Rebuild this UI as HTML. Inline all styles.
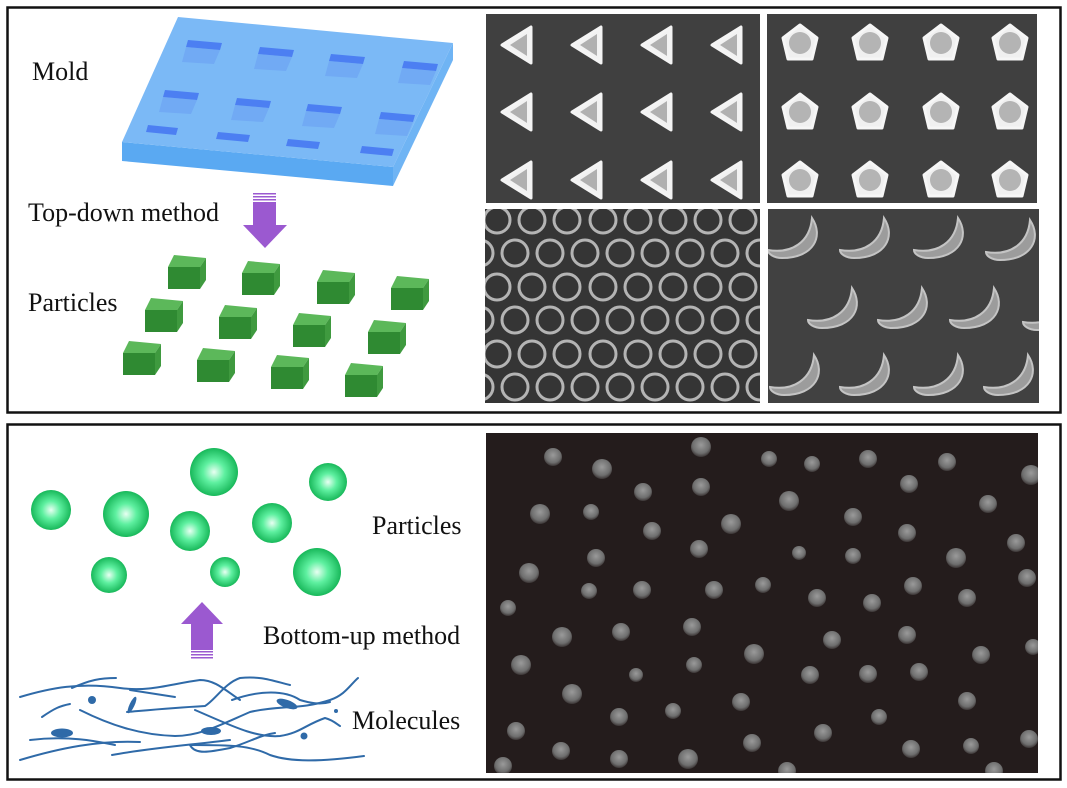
<!DOCTYPE html>
<html><head><meta charset="utf-8"><style>
html,body{margin:0;padding:0;background:#fff;}
svg{display:block;}
text{font-family:"Liberation Serif",serif;fill:#111;}
</style></head><body>
<svg width="1067" height="788" viewBox="0 0 1067 788" xmlns="http://www.w3.org/2000/svg">
<defs>
<radialGradient id="sph" cx="0.5" cy="0.5" r="0.5">
<stop offset="0" stop-color="#e8fff2"/><stop offset="0.45" stop-color="#5ef0a0"/><stop offset="1" stop-color="#18b85a"/>
</radialGradient>
<radialGradient id="dot" cx="0.5" cy="0.4" r="0.6">
<stop offset="0" stop-color="#9a9a9a"/><stop offset="0.7" stop-color="#6e6e6e"/><stop offset="1" stop-color="#3a3434"/>
</radialGradient>
<g id="cube">
<polygon points="0,0 6,-12 38,-9 32,0" fill="#5cb85a"/>
<polygon points="32,0 38,-9 38,13 32,22" fill="#3f9a3f"/>
<rect x="0" y="0" width="32" height="22" fill="#2f8a32"/>
</g>
<g id="tri"><polygon points="-16,0 13,-18 13,18" fill="#f2f2f2" stroke="#f4f4f4" stroke-width="3" stroke-linejoin="round"/><polygon points="-8,0 9,-11 9,11" fill="#b0b0b0"/></g>
<g id="pent"><polygon points="0,-18 17,-5 12,16 -12,16 -17,-5" fill="#f0f0f0" stroke="#f6f6f6" stroke-width="3" stroke-linejoin="round"/><circle r="11" fill="#b4b4b4"/></g>
<g id="ring"><circle r="13" fill="none" stroke="#b4b4b4" stroke-width="3"/></g>
<g id="cres"><path d="M22,-22 C34,-4 24,18 -8,18 C-16,18 -22,14 -22,10 C2,14 20,2 22,-22 Z" fill="#9c9c9c" stroke="#c4c4c4" stroke-width="2"/></g>
</defs>

<rect x="7.5" y="7.5" width="1053" height="405" fill="none" stroke="#111" stroke-width="2.5"/>
<rect x="7.5" y="424.5" width="1053" height="355" fill="none" stroke="#111" stroke-width="2.5"/>

<polygon points="122,142 393,167 393,186 122,161" fill="#5aa9f2"/>
<polygon points="393,167 453,43 453,60 393,186" fill="#6fb4f4"/>
<polygon points="178,17 453,43 393,167 122,142" fill="#7bb9f6"/>
<g fill="#4c7ff2">
<polygon points="188,40 222,43 220,50 186,47"/><polygon points="260,47 294,50 292,57 258,54"/><polygon points="331,54 365,57 363,64 329,61"/><polygon points="404,61 438,64 436,71 402,68"/>
<polygon points="165,90 199,93 197,100 163,97"/><polygon points="237,98 271,101 269,108 235,105"/><polygon points="308,104 342,107 340,114 306,111"/><polygon points="381,112 415,115 413,122 379,119"/>
<polygon points="148,125 178,128 176,135 146,132"/><polygon points="218,132 250,135 248,142 216,139"/><polygon points="288,139 320,142 318,149 286,146"/><polygon points="362,146 394,149 392,156 360,153"/>
</g>
<g fill="#5f8ff2" opacity="0.35">
<polygon points="186,47 220,50 214,64 182,62"/><polygon points="258,54 292,57 286,71 254,69"/><polygon points="329,61 363,64 357,78 325,76"/><polygon points="402,68 436,71 430,85 398,83"/>
<polygon points="163,97 197,100 191,114 159,112"/><polygon points="235,105 269,108 263,122 231,120"/><polygon points="306,111 340,114 334,128 302,126"/><polygon points="379,119 413,122 407,136 375,134"/>
</g>

<text x="32" y="80" font-size="26">Mold</text>
<text x="28" y="221" font-size="26">Top-down method</text>
<text x="28" y="311" font-size="26">Particles</text>

<g fill="#9b59d0">
<rect x="253" y="193" width="23" height="1.5"/><rect x="253" y="196" width="23" height="1.5"/><rect x="253" y="199" width="23" height="1.5"/>
<rect x="253" y="202" width="23" height="24"/>
<polygon points="243,225 287,225 265,248"/>
</g>

<use href="#cube" x="168" y="267"/><use href="#cube" x="242" y="273"/><use href="#cube" x="317" y="282"/><use href="#cube" x="391" y="288"/>
<use href="#cube" x="145" y="310"/><use href="#cube" x="219" y="317"/><use href="#cube" x="293" y="325"/><use href="#cube" x="368" y="332"/>
<use href="#cube" x="123" y="353"/><use href="#cube" x="197" y="360"/><use href="#cube" x="271" y="367"/><use href="#cube" x="345" y="375"/>

<rect x="486" y="14" width="274" height="189" fill="#404040"/>
<use href="#tri" x="518" y="45"/><use href="#tri" x="588" y="45"/><use href="#tri" x="658" y="45"/><use href="#tri" x="728" y="45"/>
<use href="#tri" x="518" y="112"/><use href="#tri" x="588" y="112"/><use href="#tri" x="658" y="112"/><use href="#tri" x="728" y="112"/>
<use href="#tri" x="518" y="180"/><use href="#tri" x="588" y="180"/><use href="#tri" x="658" y="180"/><use href="#tri" x="728" y="180"/>

<rect x="767" y="14" width="270" height="189" fill="#404040"/>
<use href="#pent" x="800" y="43"/><use href="#pent" x="870" y="43"/><use href="#pent" x="941" y="43"/><use href="#pent" x="1010" y="43"/>
<use href="#pent" x="800" y="112"/><use href="#pent" x="870" y="112"/><use href="#pent" x="941" y="112"/><use href="#pent" x="1010" y="112"/>
<use href="#pent" x="800" y="180"/><use href="#pent" x="870" y="180"/><use href="#pent" x="941" y="180"/><use href="#pent" x="1010" y="180"/>

<svg x="485" y="209" width="275" height="194" viewBox="485 209 275 194">
<rect x="485" y="209" width="275" height="194" fill="#353535"/>
<g id="ringrows">
<use href="#ring" x="497" y="220"/><use href="#ring" x="532" y="220"/><use href="#ring" x="567" y="220"/><use href="#ring" x="603" y="220"/><use href="#ring" x="638" y="220"/><use href="#ring" x="673" y="220"/><use href="#ring" x="708" y="220"/><use href="#ring" x="743" y="220"/>
<use href="#ring" x="480" y="253"/><use href="#ring" x="515" y="253"/><use href="#ring" x="550" y="253"/><use href="#ring" x="585" y="253"/><use href="#ring" x="620" y="253"/><use href="#ring" x="655" y="253"/><use href="#ring" x="690" y="253"/><use href="#ring" x="725" y="253"/><use href="#ring" x="760" y="253"/>
</g>
<use href="#ringrows" y="67"/><use href="#ringrows" y="134"/><use href="#ringrows" y="201"/>
</svg>

<svg x="768" y="209" width="271" height="194" viewBox="768 209 271 194">
<rect x="768" y="209" width="271" height="194" fill="#414141"/>
<use href="#cres" x="790" y="240"/><use href="#cres" x="862" y="240"/><use href="#cres" x="936" y="240"/><use href="#cres" x="1008" y="242"/>
<use href="#cres" x="830" y="310"/><use href="#cres" x="900" y="310"/><use href="#cres" x="972" y="310"/><use href="#cres" x="1045" y="312"/>
<use href="#cres" x="792" y="377"/><use href="#cres" x="862" y="377"/><use href="#cres" x="936" y="377"/><use href="#cres" x="1006" y="377"/>
</svg>

<circle cx="51" cy="510" r="20" fill="url(#sph)"/>
<circle cx="126" cy="514" r="23" fill="url(#sph)"/>
<circle cx="214" cy="472" r="24" fill="url(#sph)"/>
<circle cx="328" cy="482" r="19" fill="url(#sph)"/>
<circle cx="190" cy="531" r="20" fill="url(#sph)"/>
<circle cx="272" cy="523" r="20" fill="url(#sph)"/>
<circle cx="109" cy="575" r="18" fill="url(#sph)"/>
<circle cx="225" cy="572" r="15" fill="url(#sph)"/>
<circle cx="317" cy="572" r="24" fill="url(#sph)"/>

<g fill="#9b59d0">
<polygon points="181,624 202,602 223,624"/>
<rect x="191" y="623" width="22" height="27"/>
<rect x="191" y="651" width="22" height="1.5"/><rect x="191" y="654" width="22" height="1.5"/><rect x="191" y="657" width="22" height="1.5"/>
</g>

<text x="372" y="534" font-size="26">Particles</text>
<text x="263" y="644" font-size="26">Bottom-up method</text>
<text x="352" y="729" font-size="26">Molecules</text>

<g fill="none" stroke="#2f6aa8" stroke-width="2" stroke-linecap="round">
<path d="M20,697 C50,688 80,682 120,688 C150,692 170,684 200,680 C215,680 225,690 240,700"/>
<path d="M72,688 C90,680 100,678 116,678"/>
<path d="M42,717 C55,708 60,706 70,704"/>
<path d="M80,710 C110,725 140,735 175,736 C200,736 220,725 250,712 C280,705 300,710 330,700 C345,695 350,685 358,678"/>
<path d="M130,690 L175,697"/>
<path d="M127,712 C150,710 170,708 205,706 C215,700 225,683 240,678 C260,676 270,680 290,685"/>
<path d="M20,760 C60,748 100,740 140,742"/>
<path d="M112,755 C150,748 190,745 230,740"/>
<path d="M30,740 C70,735 100,742 115,745"/>
<path d="M195,710 C230,725 255,738 280,736 C300,733 305,725 325,718 C333,720 338,725 340,726"/>
<path d="M232,700 C260,690 285,690 300,700 C310,703 320,705 330,702"/>
<path d="M190,745 C230,745 250,745 270,755 C290,762 320,762 364,756"/>
<path d="M190,745 C195,755 210,752 230,748 C250,742 260,735 275,733"/>
</g>
<g fill="#2f6aa8">
<circle cx="92" cy="700" r="4"/>
<ellipse cx="62" cy="733" rx="11" ry="4.5"/>
<ellipse cx="211" cy="731" rx="10" ry="4"/>
<ellipse cx="287" cy="704" rx="11" ry="4" transform="rotate(20 287 704)"/>
<circle cx="304" cy="736" r="3.5"/>
<circle cx="336" cy="711" r="2"/>
<ellipse cx="132" cy="705" rx="9" ry="2.5" transform="rotate(-65 132 705)"/>
</g>

<svg x="486" y="433" width="552" height="340" viewBox="486 433 552 340">
<rect x="486" y="433" width="552" height="340" fill="#241c1c"/>
<g fill="url(#dot)">
<circle cx="553" cy="457" r="9"/><circle cx="602" cy="469" r="10"/><circle cx="701" cy="447" r="10"/><circle cx="769" cy="459" r="8"/><circle cx="812" cy="464" r="8"/><circle cx="868" cy="459" r="9"/><circle cx="947" cy="462" r="9"/><circle cx="1031" cy="475" r="10"/>
<circle cx="643" cy="492" r="9"/><circle cx="701" cy="487" r="9"/><circle cx="909" cy="484" r="9"/><circle cx="789" cy="501" r="10"/>
<circle cx="540" cy="514" r="10"/><circle cx="591" cy="512" r="8"/><circle cx="988" cy="504" r="9"/><circle cx="853" cy="517" r="9"/>
<circle cx="652" cy="531" r="9"/><circle cx="731" cy="524" r="10"/><circle cx="907" cy="533" r="9"/><circle cx="1016" cy="543" r="9"/>
<circle cx="699" cy="549" r="9"/><circle cx="799" cy="553" r="7"/><circle cx="853" cy="556" r="8"/><circle cx="956" cy="558" r="10"/><circle cx="596" cy="558" r="9"/><circle cx="529" cy="573" r="10"/>
<circle cx="1027" cy="578" r="9"/><circle cx="589" cy="591" r="8"/><circle cx="642" cy="590" r="9"/><circle cx="714" cy="590" r="9"/><circle cx="763" cy="585" r="8"/><circle cx="817" cy="598" r="9"/><circle cx="872" cy="603" r="9"/><circle cx="913" cy="586" r="9"/><circle cx="967" cy="598" r="9"/><circle cx="508" cy="608" r="8"/>
<circle cx="562" cy="637" r="10"/><circle cx="621" cy="632" r="9"/><circle cx="692" cy="627" r="9"/><circle cx="832" cy="640" r="9"/><circle cx="907" cy="635" r="9"/><circle cx="754" cy="654" r="10"/><circle cx="981" cy="655" r="9"/><circle cx="1033" cy="647" r="8"/>
<circle cx="521" cy="665" r="10"/><circle cx="636" cy="675" r="7"/><circle cx="694" cy="665" r="8"/><circle cx="810" cy="675" r="9"/><circle cx="868" cy="674" r="9"/><circle cx="919" cy="672" r="9"/>
<circle cx="572" cy="694" r="10"/><circle cx="741" cy="702" r="9"/><circle cx="967" cy="701" r="9"/><circle cx="619" cy="717" r="9"/><circle cx="673" cy="711" r="8"/><circle cx="879" cy="717" r="8"/>
<circle cx="516" cy="731" r="9"/><circle cx="823" cy="733" r="9"/><circle cx="561" cy="751" r="9"/><circle cx="619" cy="759" r="9"/><circle cx="688" cy="759" r="10"/><circle cx="752" cy="743" r="9"/><circle cx="911" cy="749" r="9"/><circle cx="971" cy="746" r="8"/><circle cx="1029" cy="739" r="9"/>
<circle cx="503" cy="766" r="9"/><circle cx="787" cy="771" r="9"/><circle cx="994" cy="771" r="9"/>
</g>
</svg>
</svg>
</body></html>
